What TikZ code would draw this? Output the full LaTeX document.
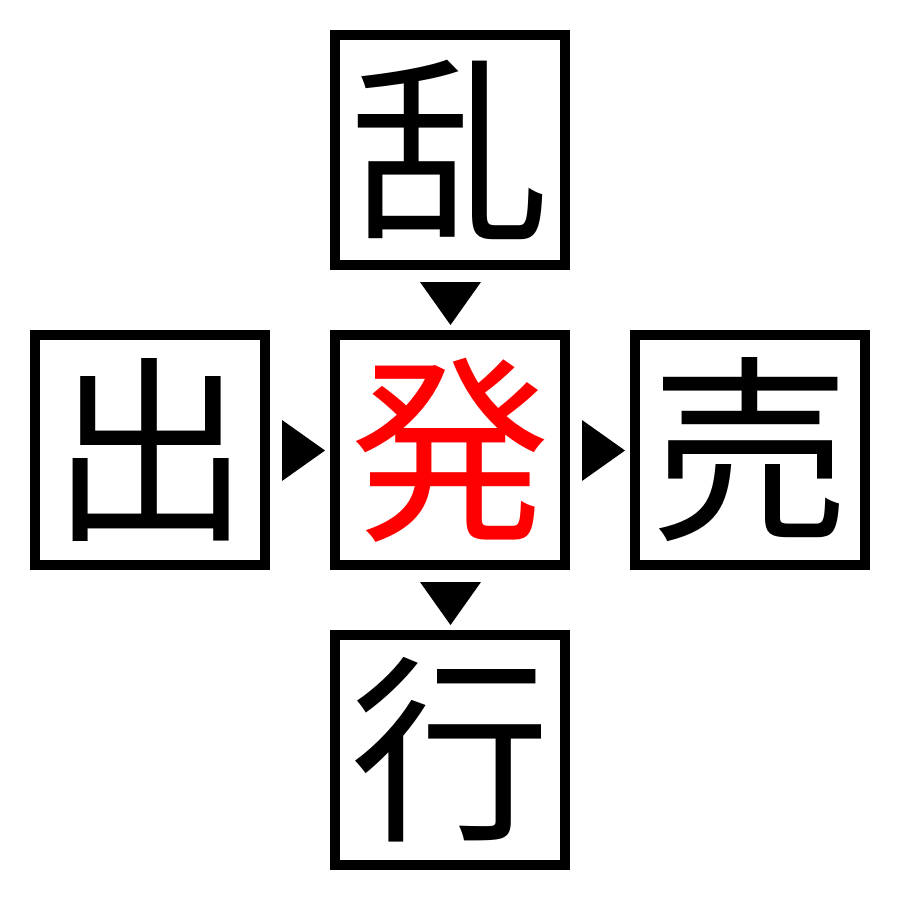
\documentclass[tikz,border=0pt]{standalone}
\usepackage{fontspec}
\newfontfamily\cjk{Noto Sans CJK JP}
\definecolor{kred}{RGB}{255,0,0}
\begin{document}
\begin{tikzpicture}[x=0.5pt,y=-0.5pt,
  kbox/.style={draw=black,line width=5pt,minimum size=115pt,inner sep=0pt,font=\cjk\fontsize{100}{100}\selectfont},
  tri/.style={fill=black,draw=none}]
\useasboundingbox (0,0) rectangle (900,900);
\node[kbox] (top) at (450,150) {乱};
\node[kbox] (left) at (150,450) {出};
\node[kbox,text=kred] (mid) at (450,450) {発};
\node[kbox] (right) at (750,450) {売};
\node[kbox] (bot) at (450,750) {行};
\coordinate (t1) at (282,420); \coordinate (t2) at (282,481); \coordinate (t3) at (325,450.5);
\fill[tri] (t1) -- (t2) -- (t3) -- cycle;
\coordinate (r1) at (582,420); \coordinate (r2) at (582,481); \coordinate (r3) at (625,450.5);
\fill[tri] (r1) -- (r2) -- (r3) -- cycle;
\coordinate (d1) at (420,282); \coordinate (d2) at (481,282); \coordinate (d3) at (450.5,325);
\fill[tri] (d1) -- (d2) -- (d3) -- cycle;
\coordinate (e1) at (420,582); \coordinate (e2) at (481,582); \coordinate (e3) at (450.5,625);
\fill[tri] (e1) -- (e2) -- (e3) -- cycle;
\end{tikzpicture}
\end{document}
